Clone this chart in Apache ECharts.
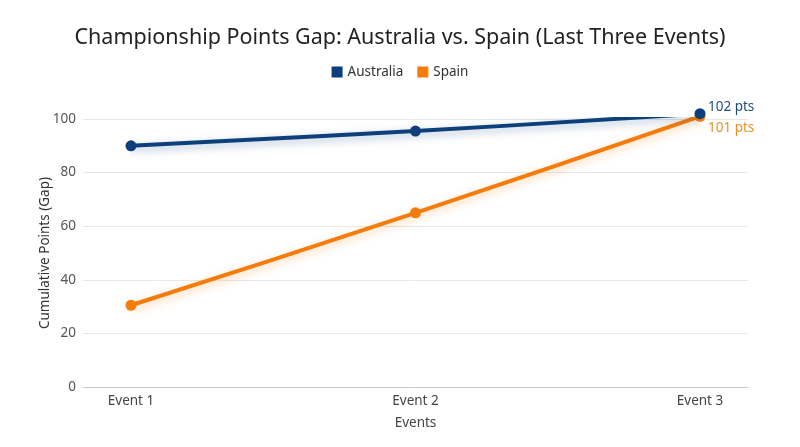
<!DOCTYPE html>
<html>
<head>
<meta charset="UTF-8">
<script src="https://cdn.jsdelivr.net/npm/echarts@6/dist/echarts.min.js"></script>
<title>Championship Points Gap</title>
<style>
html, body { margin: 0; padding: 0; background: #fff; }
#main { width: 800px; height: 447px; }
</style>
</head>
<body>
<div id="main"></div>
<script type="text/javascript">
// data
var events = ['Event 1', 'Event 2', 'Event 3'];
var australia = [90, 95.5, 102];
var spain = [30.5, 65, 101];
var yTicks = [0, 20, 40, 60, 80, 100];

var FONT = "'Noto Sans', sans-serif";
var blue = '#0d3f7a';
var orange = '#f57c0a';

var myChart = echarts.init(document.getElementById('main'));

var option = {
	backgroundColor: '#fff',
	textStyle: { fontFamily: FONT },
	title: {
		text: 'Championship Points Gap: Australia vs. Spain (Last Three Events)',
		left: 'center',
		top: 22,
		textStyle: { fontFamily: FONT, fontSize: 21.5, fontWeight: 'normal', color: '#222' }
	},
	legend: {
		top: 60,
		left: 'center',
		icon: 'rect',
		itemWidth: 11,
		itemHeight: 11,
		itemGap: 14,
		textStyle: { fontFamily: FONT, fontSize: 13.5, color: '#333' },
		data: ['Australia', 'Spain']
	},
	// grid 0: background axes (gridlines / y labels), grid 1: the lines
	grid: [
		{ left: 83, right: 52, top: 119, bottom: 60 },
		{ left: 131, right: 100, top: 119, bottom: 60 }
	],
	xAxis: [
		{
			gridIndex: 0, type: 'value', min: 0, max: 1,
			axisLine: { show: true, lineStyle: { color: '#c8c8c8', width: 1 } },
			axisTick: { show: false }, axisLabel: { show: false }, splitLine: { show: false }
		},
		{
			gridIndex: 1, type: 'category', data: events, boundaryGap: false,
			name: 'Events', nameLocation: 'middle', nameGap: 29,
			nameTextStyle: { fontFamily: FONT, fontSize: 13.5, color: '#444' },
			axisLine: { show: false }, axisTick: { show: false },
			axisLabel: { fontFamily: FONT, fontSize: 13.5, color: '#444', margin: 7 },
			splitLine: { show: false }
		}
	],
	yAxis: [
		{
			gridIndex: 0, type: 'value', min: yTicks[0], max: yTicks[yTicks.length - 1], interval: 20,
			name: 'Cumulative Points (Gap)', nameLocation: 'middle', nameGap: 31,
			nameMoveOverlap: false,
			nameTextStyle: { fontFamily: FONT, fontSize: 13.5, color: '#333' },
			axisLine: { show: false }, axisTick: { show: false },
			axisLabel: { fontFamily: FONT, fontSize: 13.5, color: '#555', margin: 7 },
			splitLine: { show: true, lineStyle: { color: '#e8e8e8', width: 1 } }
		},
		{
			gridIndex: 1, type: 'value', min: yTicks[0], max: yTicks[yTicks.length - 1],
			show: false
		}
	],
	series: [
		{
			name: 'Australia', type: 'line', xAxisIndex: 1, yAxisIndex: 1,
			data: australia, smooth: 0.4, clip: false,
			symbol: 'circle', symbolSize: 11,
			itemStyle: { color: blue },
			lineStyle: { width: 4, color: blue, shadowColor: 'rgba(13,63,122,0.35)', shadowBlur: 8, shadowOffsetY: 3 },
			endLabel: {
				show: true, formatter: function (p) { return p.value + ' pts'; },
				color: '#1d4e7e', fontFamily: FONT, fontSize: 13.5, distance: 8, offset: [0, -6]
			},
			z: 3
		},
		{
			name: 'Spain', type: 'line', xAxisIndex: 1, yAxisIndex: 1,
			data: spain, smooth: 0.5, clip: false,
			symbol: 'circle', symbolSize: 11,
			itemStyle: { color: orange },
			lineStyle: { width: 4, color: orange, shadowColor: 'rgba(245,124,10,0.35)', shadowBlur: 8, shadowOffsetY: 3 },
			endLabel: {
				show: true, formatter: function (p) { return p.value + ' pts'; },
				color: '#e8902a', fontFamily: FONT, fontSize: 13.5, distance: 8, offset: [0, 12]
			},
			z: 2
		}
	]
};
myChart.setOption(option);
</script>
</body>
</html>
